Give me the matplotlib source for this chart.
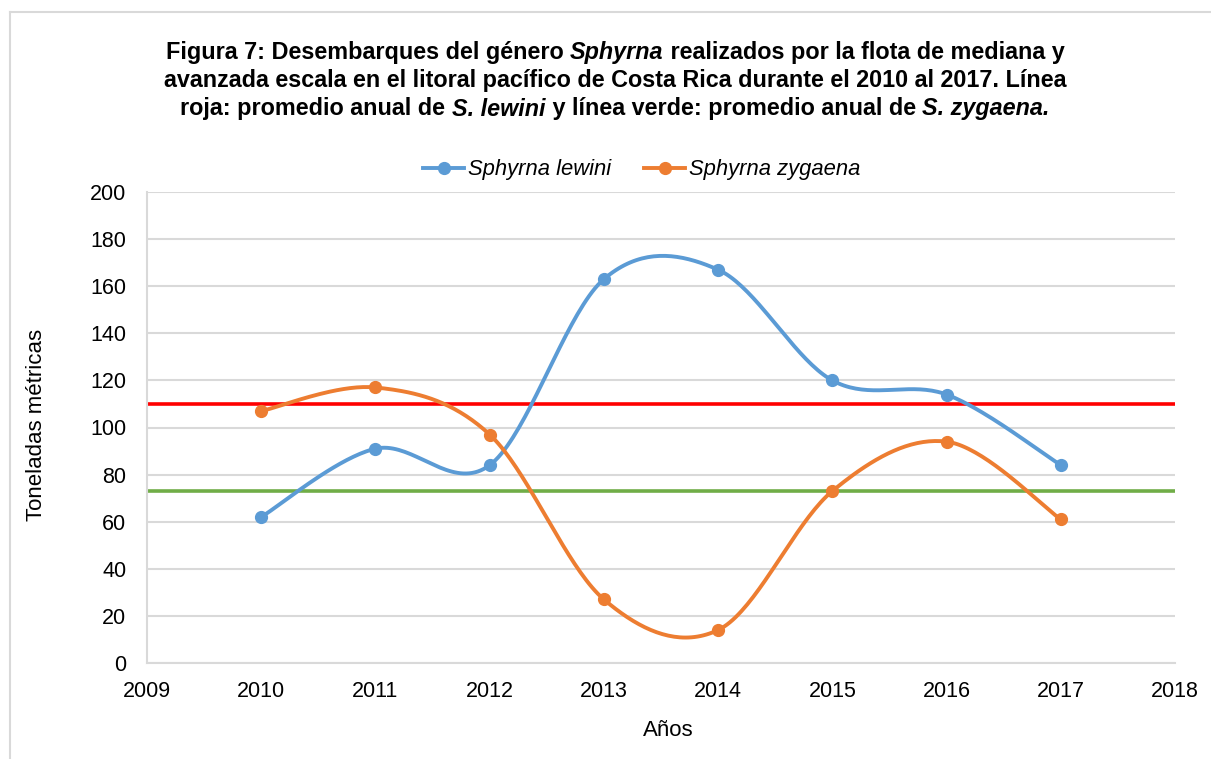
import numpy as np
import matplotlib
matplotlib.use("Agg")
import matplotlib.pyplot as plt
from matplotlib.lines import Line2D

plt.rcParams['font.family'] = ['Liberation Sans', 'DejaVu Sans']

years = [2010, 2011, 2012, 2013, 2014, 2015, 2016, 2017]
lewini = [62, 91, 84, 163, 167, 120, 114, 84]
zygaena = [107, 117, 97, 27, 14, 73, 94, 61]
avg_lewini = 110
avg_zygaena = 73
series_names = ["Sphyrna lewini", "Sphyrna zygaena"]
x_ticks = list(range(2009, 2019))
y_ticks = list(range(0, 201, 20))

BLUE = "#5B9BD5"
ORANGE = "#ED7D31"
RED = "#FF0000"
GREEN = "#70AD47"
GRID = "#D9D9D9"


def smooth(xs, ys, n=40):
    xs = np.asarray(xs, float)
    ys = np.asarray(ys, float)
    P = np.column_stack([xs, ys])
    ext = np.vstack([P[0], P, P[-1]])
    out = []
    t = np.linspace(0, 1, n)[:, None]
    for i in range(len(P) - 1):
        p0, p1, p2, p3 = ext[i], ext[i + 1], ext[i + 2], ext[i + 3]
        c1 = p1 + (p2 - p0) / 6.0
        c2 = p2 - (p3 - p1) / 6.0
        seg = ((1 - t) ** 3) * p1 + 3 * ((1 - t) ** 2) * t * c1 + 3 * (1 - t) * t ** 2 * c2 + t ** 3 * p2
        out.append(seg if i == 0 else seg[1:])
    arr = np.vstack(out)
    return arr[:, 0], arr[:, 1]


W, H = 1211, 759
LBL = 15.5
fig = plt.figure(figsize=(W / 100, H / 100), dpi=100)
ax = fig.add_axes([147 / W, 1 - 663 / H, (1175 - 147) / W, (663 - 192) / H])

ax.set_xlim(2009, 2018)
ax.set_ylim(0, 200)
ax.set_xticks(x_ticks)
ax.set_yticks(y_ticks)
ax.tick_params(length=0, labelsize=LBL, colors="#000000")
ax.tick_params(axis='y', pad=15)
ax.tick_params(axis='x', pad=13)
ax.grid(axis='y', color=GRID, linewidth=1.5)
ax.set_axisbelow(True)
for s in ['top', 'right']:
    ax.spines[s].set_visible(False)
for s in ['left', 'bottom']:
    ax.spines[s].set_color(GRID)
    ax.spines[s].set_linewidth(1.5)

ax.axhline(avg_lewini, color=RED, linewidth=2.6, zorder=2)
ax.axhline(avg_zygaena, color=GREEN, linewidth=2.6, zorder=2)

for vals, col, name in [(lewini, BLUE, series_names[0]), (zygaena, ORANGE, series_names[1])]:
    sx, sy = smooth(years, vals)
    ax.plot(sx, sy, color=col, linewidth=2.8, zorder=3, solid_capstyle='round')
    ax.plot(years, vals, 'o', color=col, markersize=8.5, zorder=4)

ax.set_ylabel("Toneladas métricas", fontsize=LBL + 0.5, labelpad=0)
ax.yaxis.set_label_coords((47 - 147) / (1175 - 147), 0.505)
ax.set_xlabel("Años", fontsize=LBL + 0.5)
ax.xaxis.set_label_coords(0.507, -(720 - 663) / (663 - 192))

handles = [Line2D([], [], color=BLUE, linewidth=2.8, marker='o', markersize=8.5),
           Line2D([], [], color=ORANGE, linewidth=2.8, marker='o', markersize=8.5)]
leg = fig.legend(handles, series_names, loc='center', bbox_to_anchor=(642 / W, 1 - 170 / H),
                 ncol=2, frameon=False, prop={'style': 'italic', 'size': LBL + 0.3},
                 handlelength=1.85, handletextpad=0.2, columnspacing=1.5, borderpad=0)

# Title with mixed bold / bold-italic segments
title_lines = [
    [("Figura 7: Desembarques del género ", 'normal'), ("Sphyrna", 'italic'),
     (" realizados por la flota de mediana y", 'normal')],
    [("avanzada escala en el litoral pacífico de Costa Rica durante el 2010 al 2017. Línea", 'normal')],
    [("roja: promedio anual de ", 'normal'), ("S. lewini", 'italic'),
     (" y línea verde: promedio anual de ", 'normal'), ("S. zygaena.", 'italic')],
]
title_y = [52, 81, 109]
center_x = 615
renderer = fig.canvas.get_renderer()
for segs, yy in zip(title_lines, title_y):
    texts = []
    for s, st in segs:
        t = fig.text(0, 1 - yy / H, s, fontsize=16.8, fontweight='bold', style=st,
                     va='center', ha='left')
        texts.append(t)
    widths = [t.get_window_extent(renderer).width for t in texts]
    total = sum(widths)
    x0 = center_x - total / 2
    for t, w in zip(texts, widths):
        t.set_x(x0 / W)
        x0 += w

# outer chart border (partially visible)
fig.add_artist(Line2D([10 / W, 1.0], [1 - 12 / H, 1 - 12 / H], color=GRID, linewidth=1.5,
                      transform=fig.transFigure))
fig.add_artist(Line2D([10 / W, 10 / W], [0, 1 - 12 / H], color=GRID, linewidth=1.5,
                      transform=fig.transFigure))

fig.savefig("out.png", dpi=100)
